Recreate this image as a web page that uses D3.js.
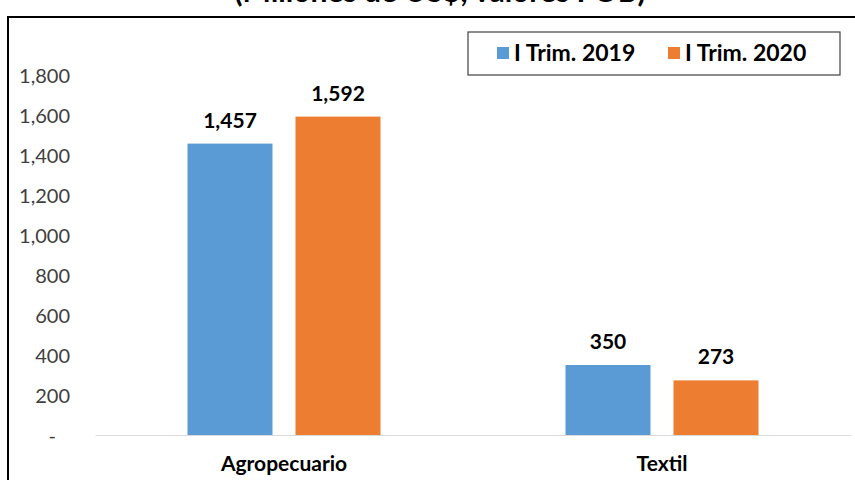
<!DOCTYPE html>
<html><head><meta charset="utf-8">
<script src="https://cdn.jsdelivr.net/npm/d3@7"></script>
<style>body{margin:0;background:#fff}svg{display:block}</style>
</head><body>
<svg id="c" width="855" height="480"></svg>
<script>
const categories = ["Agropecuario", "Textil"];
const seriesNames = ["I Trim. 2019", "I Trim. 2020"];
const values2019 = [1457, 350];
const values2020 = [1592, 273];
const yTicks = [0, 200, 400, 600, 800, 1000, 1200, 1400, 1600, 1800];
const title = "(Millones de US$, valores FOB)";
const colors = ["#5B9BD5", "#ED7D31"];

const font = "Lato, 'Open Sans', sans-serif";
const svg = d3.select("#c");

// Title (cut off at top, as in the reference)
svg.append("text").attr("x", 440).attr("y", 1.5).attr("text-anchor", "middle")
  .attr("font-family", font).attr("font-weight", "bold").attr("font-size", 30)
  .attr("fill", "#000").text(title);

// Frame
svg.append("rect").attr("x", 8).attr("y", 17).attr("width", 860).attr("height", 500)
  .attr("fill", "none").attr("stroke", "#000").attr("stroke-width", 2);

const x0 = d3.scaleBand().domain(categories).range([95, 851]);
const x1 = d3.scaleBand().domain(seriesNames).range([0, 193]).paddingInner(0.213);
const y = d3.scaleLinear().domain([0, 1800]).range([435, 75]);

// y axis labels
const yAxis = d3.axisLeft(y).tickValues(yTicks).tickSize(0).tickPadding(0)
  .tickFormat(d => d === 0 ? "-" : d3.format(",")(d));
const ya = svg.append("g").attr("transform", "translate(70,0)").call(yAxis);
ya.select(".domain").remove();
ya.selectAll("text").attr("font-family", font).attr("font-size", 20).attr("fill", "#404040")
  .attr("dy", "0.35em");
ya.selectAll(".tick").filter(d => d === 0).select("text").attr("dx", -14);

// x baseline
const xAxis = d3.axisBottom(x0).tickSize(0).tickPadding(21);
const xa = svg.append("g").attr("transform", `translate(0,${y(0)})`).call(xAxis);
xa.select(".domain").attr("stroke", "#d9d9d9").attr("stroke-width", 1.2);
xa.selectAll("text").attr("font-family", font).attr("font-weight", "bold").attr("font-size", 21)
  .attr("fill", "#000");

const data = categories.map((c, i) => ({cat: c, vals: [values2019[i], values2020[i]]}));
const groups = svg.append("g").selectAll("g").data(data).join("g")
  .attr("transform", d => `translate(${x0(d.cat) + (x0.bandwidth() - 193) / 2},0)`);

groups.selectAll("rect").data(d => d.vals.map((v, j) => ({v, s: seriesNames[j], j})))
  .join("rect")
  .attr("x", d => x1(d.s)).attr("width", x1.bandwidth())
  .attr("y", d => y(d.v)).attr("height", d => y(0) - y(d.v))
  .attr("fill", d => colors[d.j]);

groups.selectAll("text.val").data(d => d.vals.map((v, j) => ({v, s: seriesNames[j], j})))
  .join("text").attr("class", "val")
  .attr("x", d => x1(d.s) + x1.bandwidth() / 2).attr("y", d => y(d.v) - 16)
  .attr("text-anchor", "middle").attr("font-family", font).attr("font-weight", "bold")
  .attr("font-size", 21).attr("fill", "#000")
  .text(d => d3.format(",")(d.v));

// Legend
const lg = svg.append("g");
lg.append("rect").attr("x", 468).attr("y", 32).attr("width", 372).attr("height", 43)
  .attr("fill", "#fff").attr("stroke", "#404040").attr("stroke-width", 1.2);
const lx = [497, 668];
seriesNames.forEach((s, i) => {
  lg.append("rect").attr("x", lx[i]).attr("y", 47).attr("width", 12).attr("height", 12)
    .attr("fill", colors[i]);
  lg.append("text").attr("x", lx[i] + 17).attr("y", 61).attr("font-family", font)
    .attr("font-weight", "bold").attr("font-size", 23).attr("fill", "#000").text(s);
});
</script>
</body></html>
